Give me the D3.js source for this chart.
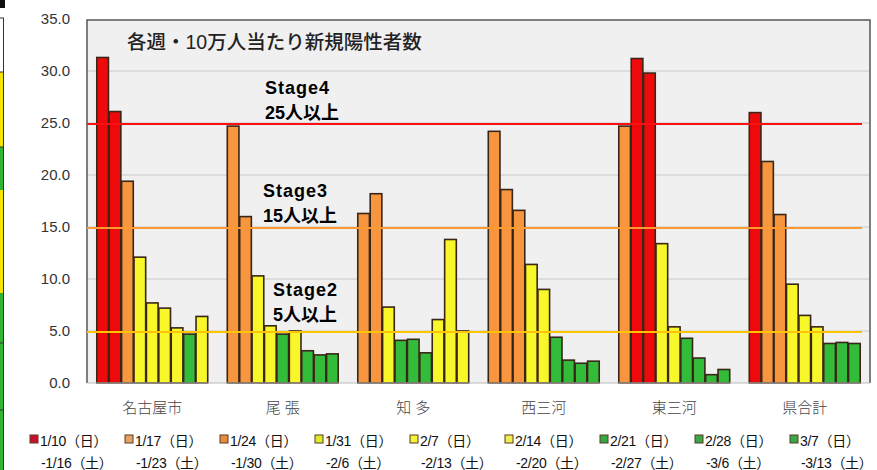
<!DOCTYPE html>
<html>
<head>
<meta charset="utf-8">
<script src="https://cdn.jsdelivr.net/npm/d3@7.9.0/dist/d3.min.js"></script>
<style>
  body { margin: 0; background: #fff; }
  text { font-family: "Liberation Sans", Arial, "Noto Sans CJK JP", sans-serif; }
</style>
</head>
<body>
<div id="chart"></div>
<script>
// regions (x categories)
const regions = ["名古屋市", "尾 張", "知 多", "西三河", "東三河", "県合計"];

// weekly periods (legend)
const weekStart = ["1/10（日）", "1/17（日）", "1/24（日）", "1/31（日）", "2/7（日）", "2/14（日）", "2/21（日）", "2/28（日）", "3/7（日）"];
const weekEnd   = ["-1/16（土）", "-1/23（土）", "-1/30（土）", "-2/6（土）", "-2/13（土）", "-2/20（土）", "-2/27（土）", "-3/6（土）", "-3/13（土）"];

// new positive cases per 100k, one array per region, one value per week
const nagoya   = [31.3, 26.1, 19.4, 12.1, 7.7, 7.2, 5.3, 4.7, 6.4];
const owari    = [24.7, 16.0, 10.3, 5.5, 4.7, 5.0, 3.1, 2.7, 2.8];
const chita    = [16.3, 18.2, 7.3, 4.1, 4.2, 2.9, 6.1, 13.8, 5.0];
const nishi    = [24.2, 18.6, 16.6, 11.4, 9.0, 4.4, 2.2, 1.9, 2.1];
const higashi  = [24.7, 31.2, 29.8, 13.4, 5.4, 4.3, 2.4, 0.8, 1.3];
const total    = [26.0, 21.3, 16.2, 9.5, 6.5, 5.4, 3.8, 3.9, 3.8];
const series = [nagoya, owari, chita, nishi, higashi, total];

// stage thresholds
const stageValues = [25, 15, 5];
const stageNames  = ["Stage4", "Stage3", "Stage2"];
const stageNotes  = ["25人以上", "15人以上", "5人以上"];

const yTicks = [0, 5, 10, 15, 20, 25, 30, 35];

const W = 877, H = 470;
const svg = d3.select("#chart").append("svg").attr("width", W).attr("height", H);

// left edge fragment (cropped table border)
const edge = svg.append("g");
edge.append("rect").attr("x", 0).attr("y", 0).attr("width", 5).attr("height", 8).attr("fill", "#111");
[[18, 72, "#fff"], [72, 147, "#f5e400"], [147, 190, "#2fb52f"], [190, 293, "#f5e400"], [293, 470, "#2fb52f"]]
  .forEach(([a, b, c]) => edge.append("rect").attr("x", 0).attr("y", a).attr("width", 3).attr("height", b - a).attr("fill", c));
edge.append("line").attr("x1", 3.5).attr("x2", 3.5).attr("y1", 18).attr("y2", 470).attr("stroke", "#333").attr("stroke-width", 1);
[18, 72, 147, 343, 410].forEach(y => edge.append("line").attr("x1", 0).attr("x2", 4).attr("y1", y).attr("y2", y).attr("stroke", "#333"));

const plot = { left: 87, right: 870, top: 20, bottom: 383 };

const y = d3.scaleLinear().domain([0, 35]).range([383, 19]);
const x0 = d3.scaleBand().domain(regions).range([plot.left, plot.right]).paddingInner(0.15).paddingOuter(0.075);
const x1 = d3.scaleBand().domain(d3.range(weekStart.length)).range([0, x0.bandwidth()]).paddingInner(0.06);

const barColor = d3.scaleThreshold().domain([5, 15, 25]).range(["#33bb3a", "#f7f72a", "#f7963f", "#ee0a0a"]);
const legendColor = ["#c8102e", "#e4a468", "#e88d3e", "#dcec2a", "#f2f23a", "#eeee50", "#35a845", "#3aa84a", "#35aa45"];
const stageColor = ["#ff1010", "#ff9a30", "#ffc400"];

// plot background
svg.append("rect")
  .attr("x", plot.left).attr("y", plot.top)
  .attr("width", plot.right - plot.left).attr("height", plot.bottom - plot.top)
  .attr("fill", "#f0f0f0");

// gridlines
svg.append("g").selectAll("line").data(yTicks.slice(1, -1)).join("line")
  .attr("x1", plot.left).attr("x2", plot.right)
  .attr("y1", d => y(d)).attr("y2", d => y(d))
  .attr("stroke", "#d6d6d6").attr("stroke-width", 1.5);

// frame
svg.append("path")
  .attr("d", `M${plot.left},${plot.bottom}V${plot.top}H${plot.right}V${plot.bottom}`)
  .attr("fill", "none").attr("stroke", "#555").attr("stroke-width", 1.5);

// y axis labels
const yAxis = svg.append("g")
  .attr("transform", `translate(${plot.left},0)`)
  .call(d3.axisLeft(y).tickValues(yTicks).tickFormat(d3.format(".1f")).tickSize(0).tickPadding(17));
yAxis.select(".domain").remove();
yAxis.selectAll("text").attr("font-size", 15).attr("fill", "#333")
  .attr("font-family", "'Liberation Sans', Arial, sans-serif");

// title
svg.append("text")
  .attr("x", 127).attr("y", 49)
  .attr("font-size", 19.5).attr("font-weight", 500).attr("fill", "#222")
  .attr("font-family", "'Noto Sans CJK JP', sans-serif")
  .text("各週・10万人当たり新規陽性者数");

// bars
const groups = svg.append("g").selectAll("g").data(regions).join("g")
  .attr("transform", d => `translate(${x0(d)},0)`);

groups.selectAll("rect")
  .data((d, i) => series[i].map((v, k) => ({ k, v })))
  .join("rect")
  .attr("x", d => x1(d.k))
  .attr("y", d => y(d.v))
  .attr("width", x1.bandwidth())
  .attr("height", d => y(0) - y(d.v))
  .attr("fill", d => barColor(d.v))
  .attr("stroke", "#3a2618")
  .attr("stroke-width", 1.6);

// baseline
svg.append("line")
  .attr("x1", plot.left).attr("x2", plot.right)
  .attr("y1", y(0)).attr("y2", y(0))
  .attr("stroke", "#bbb");

// stage lines
svg.append("g").selectAll("line").data(stageValues).join("line")
  .attr("x1", plot.left).attr("x2", 862)
  .attr("y1", d => y(d) + 1).attr("y2", d => y(d) + 1)
  .attr("stroke", (d, i) => stageColor[i]).attr("stroke-width", 2);

// stage labels
const stageLabelX = [265, 263, 273];
const stageLabelY = [94, 197, 296];
stageValues.forEach((v, i) => {
  const t = svg.append("text")
    .attr("x", stageLabelX[i]).attr("y", stageLabelY[i])
    .attr("font-size", 18).attr("font-weight", "bold").attr("fill", "#000")
    .attr("font-family", "'Liberation Sans', Arial, 'Noto Sans CJK JP', sans-serif");
  t.append("tspan").attr("x", stageLabelX[i]).attr("letter-spacing", 1).text(stageNames[i]);
  t.append("tspan").attr("x", stageLabelX[i]).attr("dy", 25).text(stageNotes[i]);
});

// category labels
svg.append("g").selectAll("text").data(regions).join("text")
  .attr("x", d => x0(d) + x0.bandwidth() / 2)
  .attr("y", 413)
  .attr("text-anchor", "middle")
  .attr("font-size", 15).attr("fill", "#444")
  .attr("font-family", "'Noto Sans CJK JP', sans-serif")
  .attr("font-weight", 300)
  .text(d => d);

// legend
const lx = d3.scaleLinear().domain([0, 1]).range([30, 125]);
const legend = svg.append("g").selectAll("g").data(weekStart).join("g")
  .attr("transform", (d, i) => `translate(${lx(i)},0)`);
legend.append("rect")
  .attr("x", 0).attr("y", 435).attr("width", 8).attr("height", 8)
  .attr("fill", (d, i) => legendColor[i]).attr("stroke", "#5a3a20").attr("stroke-width", 1);
legend.append("text")
  .attr("x", 10).attr("y", 446)
  .attr("font-size", 14).attr("fill", "#111")
  .attr("letter-spacing", -0.3)
  .text(d => d);
legend.append("text")
  .attr("x", 11).attr("y", 468)
  .attr("font-size", 14).attr("fill", "#111")
  .attr("letter-spacing", -0.3)
  .text((d, i) => weekEnd[i]);
</script>
</body>
</html>
